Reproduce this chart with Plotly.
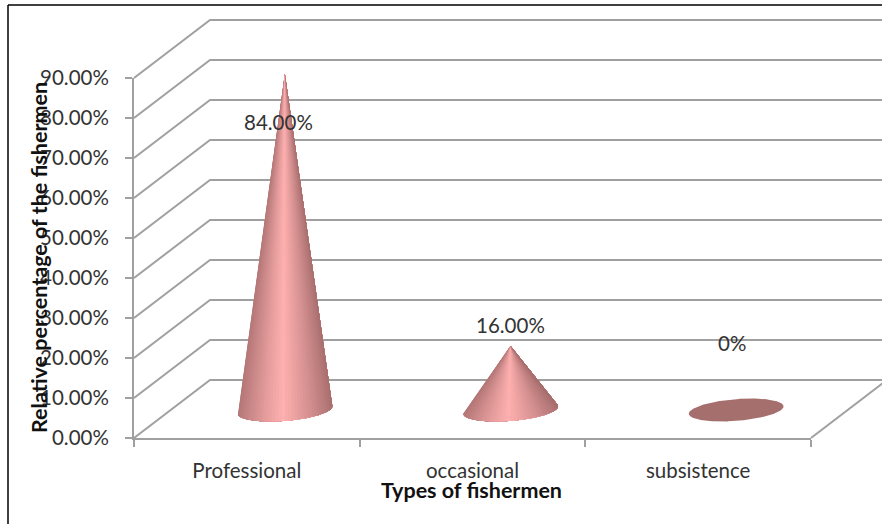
import math
import plotly.graph_objects as go

# Chart data
categories = ["Professional", "occasional", "subsistence"]
values = [84, 16, 0]
value_labels = ["84.00%", "16.00%", "0%"]
y_ticks = [0, 10, 20, 30, 40, 50, 60, 70, 80, 90]
y_tick_labels = ["0.00%", "10.00%", "20.00%", "30.00%", "40.00%", "50.00%",
                 "60.00%", "70.00%", "80.00%", "90.00%"]
x_title = "Types of fishermen"
y_title = "Relative percentage of the fishermen"

# Plot area in pixels, which fixes the size of one data unit
WIDTH, HEIGHT = 882, 524
LEFT, RIGHT_EDGE, TOP, BOTTOM_EDGE = 134, 811, 78, 438
PX_X = (RIGHT_EDGE - LEFT) / 3
PX_Y = (BOTTOM_EDGE - TOP) / 90

# Oblique projection of the chart's depth axis
DEPTH_X, DEPTH_Y = 76 / PX_X, 58 / PX_Y

FONT = "Lato, Carlito, Calibri, sans-serif"
GRID = "#a0a0a0"
TEXT = "#333333"
LIGHT = (255, 176, 176)
DARK = (168, 110, 110)
FLAT = "#a56f6d"

fig = go.Figure()

# Primary axes carry the ticks; the marks live on a full-page second subplot
# with the same scale, so the 3D walls can extend past the axis rectangle.
fig.add_trace(go.Scatter(x=[0.5, 1.5, 2.5], y=values, mode="markers",
                         marker=dict(opacity=0), hoverinfo="skip", showlegend=False))


def polyline(xs, ys, color=GRID, width=2):
    fig.add_trace(go.Scatter(x=xs, y=ys, xaxis="x2", yaxis="y2", mode="lines",
                             line=dict(color=color, width=width),
                             hoverinfo="skip", showlegend=False))


# Oblique gridlines: along the side wall, then along the back wall
for v in y_ticks:
    polyline([0, DEPTH_X, 3 + DEPTH_X], [v, v + DEPTH_Y, v + DEPTH_Y])

# Right-hand edge of the floor
polyline([3, 3 + DEPTH_X], [0, DEPTH_Y])


def shade(t):
    k = max(0.0, 1.0 - abs(t + 0.05) / 1.05) ** 0.85
    return "rgb(%d,%d,%d)" % tuple(round(d + (l - d) * k) for d, l in zip(DARK, LIGHT))


def base_point(theta):
    # Footprint circle projected on the floor, in pixels relative to its centre
    return (45 * math.cos(theta) + 15 * math.sin(theta), -11.5 * math.sin(theta))


def filled(xs, ys, colour):
    fig.add_trace(go.Scatter(x=xs, y=ys, xaxis="x2", yaxis="y2", mode="lines",
                             fill="toself", fillcolor=colour,
                             line=dict(color=colour, width=0),
                             hoverinfo="skip", showlegend=False))


N = 720
for i, (name, value) in enumerate(zip(categories, values)):
    cx = i + 0.5 + DEPTH_X / 2
    cy = DEPTH_Y / 2 - 0.25
    rim = [base_point(2 * math.pi * k / N) for k in range(N)]
    rim_x = [cx + p[0] / PX_X for p in rim]
    rim_y = [cy - p[1] / PX_Y for p in rim]

    if value == 0:
        filled(rim_x, rim_y, FLAT)
        continue

    # Silhouette: the rim points seen at the widest angle from the apex
    apex_h = value * PX_Y
    angles = [math.atan2(p[0], p[1] + apex_h) for p in rim]
    first = angles.index(min(angles))
    last = angles.index(max(angles))
    # Walk the near side of the rim (largest screen y) from left to right
    step = -1 if rim[(first - 1) % N][1] > rim[(first + 1) % N][1] else 1
    arc = [first]
    while arc[-1] != last:
        arc.append((arc[-1] + step) % N)

    # Painter's fan: each slice reaches the far silhouette and the next one covers it,
    # which leaves no seams between the shading bands
    tip_x, tip_y = cx, cy + value
    half = max(abs(p[0]) for p in rim)
    stride = 8
    for s in range(0, len(arc) - 1, stride):
        span = arc[s:]
        mid = arc[min(s + stride // 2, len(arc) - 1)]
        filled([tip_x] + [rim_x[k] for k in span] + [tip_x],
               [tip_y] + [rim_y[k] for k in span] + [tip_y],
               shade(rim[mid][0] / half))

# Value labels were placed by hand on the chart, so each has its own spot
label_x = [32 / PX_X, 37.5 / PX_X, 34 / PX_X]
label_y = [79, 28.25, 23.75]
for i, text in enumerate(value_labels):
    fig.add_annotation(x=i + 0.5 + label_x[i], y=label_y[i], xref="x", yref="y", text=text,
                       showarrow=False, font=dict(family=FONT, size=20.5, color=TEXT))

# Axis titles
fig.add_annotation(x=471 / WIDTH, y=1 - 505 / HEIGHT, xref="paper", yref="paper",
                   text="<b>%s</b>" % x_title, showarrow=False,
                   font=dict(family=FONT, size=21.5, color="#111111"))
fig.add_annotation(x=24 / WIDTH, y=1 - 258 / HEIGHT, xref="paper", yref="paper",
                   text="<b>%s</b>" % y_title, textangle=-90, showarrow=False,
                   font=dict(family=FONT, size=21.5, color="#111111"))

fig.update_layout(
    xaxis=dict(
        domain=[LEFT / WIDTH, RIGHT_EDGE / WIDTH], range=[0, 3], anchor="y",
        automargin=False, showgrid=False, zeroline=False,
        showline=True, linecolor=GRID, linewidth=2,
        tickmode="array", tickvals=[0.5, 1.5, 2.5], ticktext=categories, ticks="",
        ticklabelstandoff=13,
        tickfont=dict(family=FONT, size=20.5, color=TEXT),
        minor=dict(tickmode="array", tickvals=[0, 1, 2, 3], ticks="outside",
                   ticklen=7, tickwidth=2, tickcolor=GRID),
    ),
    yaxis=dict(
        domain=[(HEIGHT - BOTTOM_EDGE) / HEIGHT, (HEIGHT - TOP) / HEIGHT], range=[0, 90],
        anchor="x", automargin=False, showgrid=False, zeroline=False,
        showline=True, linecolor=GRID, linewidth=2,
        tickmode="array", tickvals=y_ticks, ticktext=y_tick_labels,
        ticks="outside", ticklen=7, tickwidth=2, tickcolor=GRID,
        ticklabelstandoff=12,
        tickfont=dict(family=FONT, size=20.5, color=TEXT),
    ),
    # Full-page axes sharing the same units as the primary ones
    xaxis2=dict(domain=[0, 1], range=[-LEFT / PX_X, (WIDTH - LEFT) / PX_X],
                anchor="y2", automargin=False, visible=False),
    yaxis2=dict(domain=[0, 1], range=[(BOTTOM_EDGE - HEIGHT) / PX_Y, BOTTOM_EDGE / PX_Y],
                anchor="x2", automargin=False, visible=False),
    width=WIDTH, height=HEIGHT, autosize=False, showlegend=False,
    margin=dict(l=0, r=0, t=0, b=0, pad=0, autoexpand=False),
    paper_bgcolor="white", plot_bgcolor="rgba(0,0,0,0)",
)

# Chart-area border: only the top and left edges fall inside the page
fig.add_shape(type="line", xref="paper", yref="paper", x0=8 / WIDTH, x1=8 / WIDTH,
              y0=0, y1=1 - 5 / HEIGHT, line=dict(color="#000000", width=1.5))
fig.add_shape(type="line", xref="paper", yref="paper", x0=8 / WIDTH, x1=1,
              y0=1 - 5 / HEIGHT, y1=1 - 5 / HEIGHT, line=dict(color="#000000", width=1.5))

fig.write_html("out.html", config={"displayModeBar": False})
